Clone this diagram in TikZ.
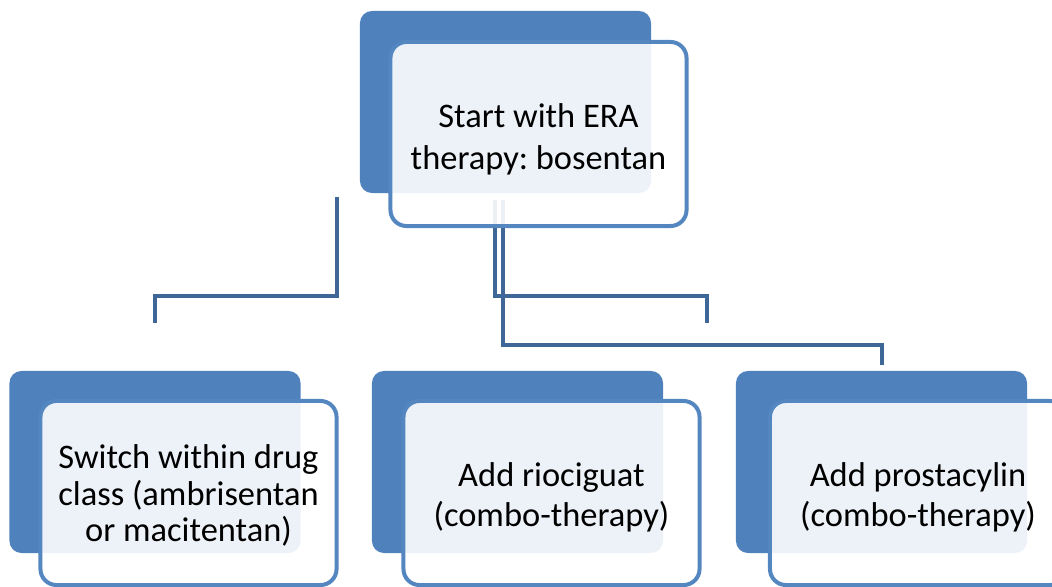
\documentclass[tikz,border=0pt]{standalone}
\usepackage{fontspec}
\setmainfont{Carlito}
\frenchspacing
\usetikzlibrary{calc}
\definecolor{backblue}{RGB}{79,129,189}
\definecolor{edgeblue}{RGB}{84,134,192}
\definecolor{linkblue}{RGB}{62,102,150}
\tikzset{backbox/.style={rounded corners=0.3cm,fill=backblue,minimum width=7.275cm,
  minimum height=4.55cm,inner sep=0pt},
 frontbox/.style={rounded corners=0.4cm,draw=edgeblue,line width=0.1cm,fill=white,
  fill opacity=0.9,text opacity=1,minimum width=7.4cm,minimum height=4.6cm,
  inner sep=0pt,align=center,font=\fontsize{24.5}{28.5}\selectfont},
 link/.style={linkblue,line width=0.1cm}}

\begin{document}
\begin{tikzpicture}[x=0.025cm,y=-0.025cm]
\useasboundingbox (0,0) rectangle (1052,586);
\clip (0,0) rectangle (1052,586);
% back plates
\node[backbox] (startback) at (505.5,102) {};
\node[backbox] (switchback) at (155,462) {};
\node[backbox] (riociback) at (517.5,462) {};
\node[backbox] (prostaback) at (881.5,462) {};
% connector ends
\coordinate (ls1) at (337,197);
\coordinate (le1) at (155,323);
\coordinate (ls2) at (495,200);
\coordinate (le2) at (707,323);
\coordinate (ls3) at (503,200);
\coordinate (le3) at (882,365);
\draw[link] (ls1) -- ++(0,99) -| (le1);
\draw[link] (ls2) -- ++(0,96) -| (le2);
\draw[link] (ls3) -- ++(0,145) -| (le3);
% front boxes
\node[frontbox,font=\fontsize{24.5}{30}\selectfont,text height=54pt] (start) at (538.5,134)
 {Start with ERA\\therapy: bosentan};
\node[frontbox,font=\fontsize{24.5}{26}\selectfont,text height=73pt] (switch) at (188.5,493)
 {Switch within drug\\class (ambrisentan\\or macitentan)};
\node[frontbox,text height=51pt] (rioci) at (551.5,493) {Add riociguat\\(combo-therapy)};
\node[frontbox,text height=51pt] (prosta) at (918,493) {Add prostacylin\\(combo-therapy)};
\end{tikzpicture}
\end{document}
